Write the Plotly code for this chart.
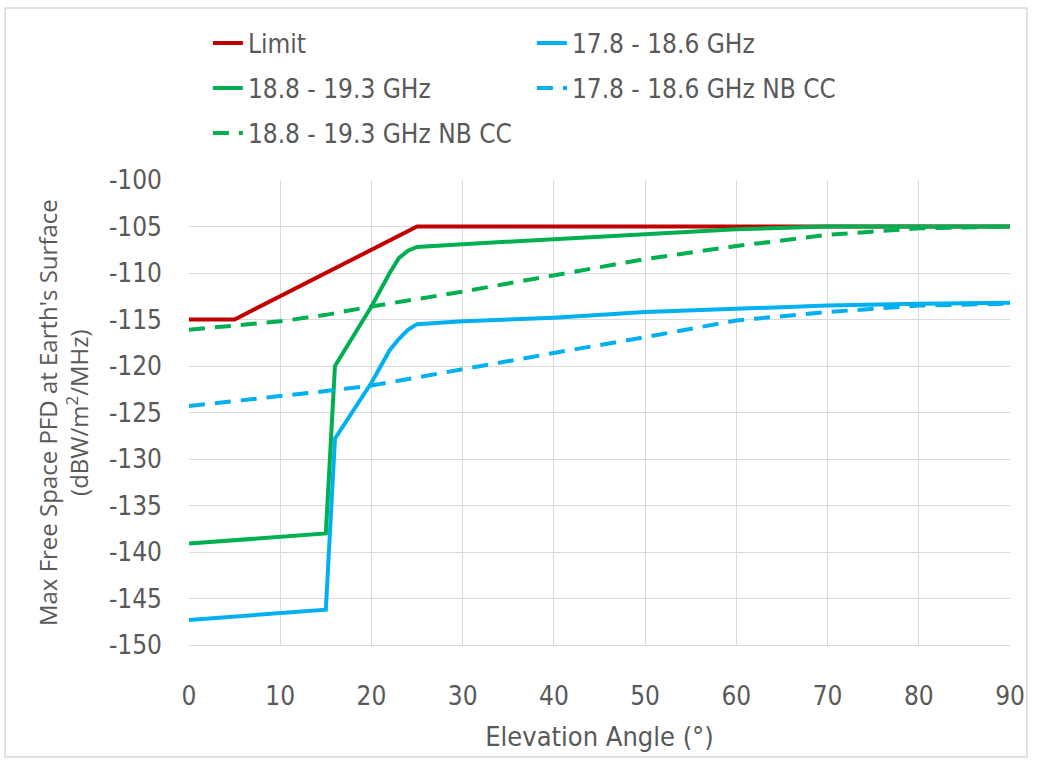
import plotly.graph_objects as go

# ---- data ----
limit_x = [0, 5, 25, 90]
limit_y = [-115, -115, -105, -105]

solid_x = [0, 10, 15, 16, 18, 20, 22, 23, 24, 25, 30, 40, 50, 60, 70, 80, 90]
band_178_y = [-147.3, -146.6, -146.2, -127.8, -124.8, -121.8, -118.3, -117.1, -116.1,
              -115.5, -115.2, -114.8, -114.2, -113.8, -113.5, -113.3, -113.2]
band_188_y = [-139.1, -138.3, -138.0, -120.0, -116.8, -113.6, -110.0, -108.4, -107.6,
              -107.2, -106.9, -106.4, -105.8, -105.3, -105.0, -105.0, -105.0]

nb_x = [0, 5, 10, 15, 20, 30, 40, 50, 60, 70, 80, 90]
nb_178_y = [-124.3, -123.8, -123.3, -122.7, -122.1, -120.3, -118.6, -116.9, -115.1, -114.2, -113.5, -113.3]
nb_188_y = [-116.1, -115.6, -115.2, -114.5, -113.6, -112.0, -110.3, -108.5, -107.1, -105.9, -105.2, -105.0]

x_ticks = [0, 10, 20, 30, 40, 50, 60, 70, 80, 90]
y_ticks = [-150, -145, -140, -135, -130, -125, -120, -115, -110, -105, -100]

RED = "#C00000"
BLUE = "#00B0F0"
GREEN = "#00B050"
GREY = "#595959"
GRID = "#D9D9D9"
FONT = "DejaVu Sans Condensed, sans-serif"

fig = go.Figure()
fig.add_trace(go.Scatter(x=limit_x, y=limit_y, mode="lines", name="Limit",
                         line=dict(color=RED, width=4), legend="legend"))
fig.add_trace(go.Scatter(x=solid_x, y=band_178_y, mode="lines", name="17.8 - 18.6 GHz",
                         line=dict(color=BLUE, width=4), legend="legend"))
fig.add_trace(go.Scatter(x=solid_x, y=band_188_y, mode="lines", name="18.8 - 19.3 GHz",
                         line=dict(color=GREEN, width=4), legend="legend2"))
fig.add_trace(go.Scatter(x=nb_x, y=nb_178_y, mode="lines", name="17.8 - 18.6 GHz NB CC",
                         line=dict(color=BLUE, width=4, dash="16px,10px"), legend="legend2"))
fig.add_trace(go.Scatter(x=nb_x, y=nb_188_y, mode="lines", name="18.8 - 19.3 GHz NB CC",
                         line=dict(color=GREEN, width=4, dash="16px,10px"), legend="legend3"))

leg_common = dict(orientation="h", xanchor="left", yanchor="middle",
                  font=dict(family=FONT, size=26, color=GREY),
                  entrywidth=279, entrywidthmode="pixels",
                  bgcolor="rgba(0,0,0,0)", borderwidth=0)

fig.update_layout(
    width=1037, height=761,
    margin=dict(l=189, r=22, t=180, b=116),
    paper_bgcolor="white", plot_bgcolor="white",
    font=dict(family=FONT, color=GREY),
    legend=dict(x=0.023, y=1.2946, **leg_common),
    legend2=dict(x=0.023, y=1.1978, **leg_common),
    legend3=dict(x=0.023, y=1.1011, **leg_common),
    xaxis=dict(range=[0, 90], tickvals=x_ticks, ticktext=[str(v) for v in x_ticks],
               showgrid=True, gridcolor=GRID, gridwidth=1,
               showline=True, linecolor=GRID, linewidth=1, zeroline=False,
               ticks="", ticklabelstandoff=28,
               tickfont=dict(family=FONT, size=26, color=GREY),
               title=dict(text="Elevation Angle (°)", standoff=16,
                          font=dict(family=FONT, size=27, color=GREY))),
    yaxis=dict(range=[-150, -100], tickvals=y_ticks, ticktext=[str(v) for v in y_ticks],
               showgrid=True, gridcolor=GRID, gridwidth=1,
               showline=False, zeroline=False, ticks="", ticklabelstandoff=26,
               tickfont=dict(family=FONT, size=26, color=GREY)),
    annotations=[dict(
        text="Max Free Space PFD at Earth's Surface<br>(dBW/m<sup>2</sup>/MHz)",
        xref="paper", yref="paper", x=-0.154, y=0.5, textangle=-90,
        showarrow=False, xanchor="center", yanchor="middle",
        font=dict(family="Open Sans, sans-serif", size=24, color=GREY))],
    shapes=[dict(type="rect", xref="paper", yref="paper",
                 x0=-0.224, x1=1.0206, y0=-0.2409, y1=1.3699,
                 line=dict(color=GRID, width=1.5), fillcolor="rgba(0,0,0,0)", layer="below")],
)

fig.write_html("out.html")
